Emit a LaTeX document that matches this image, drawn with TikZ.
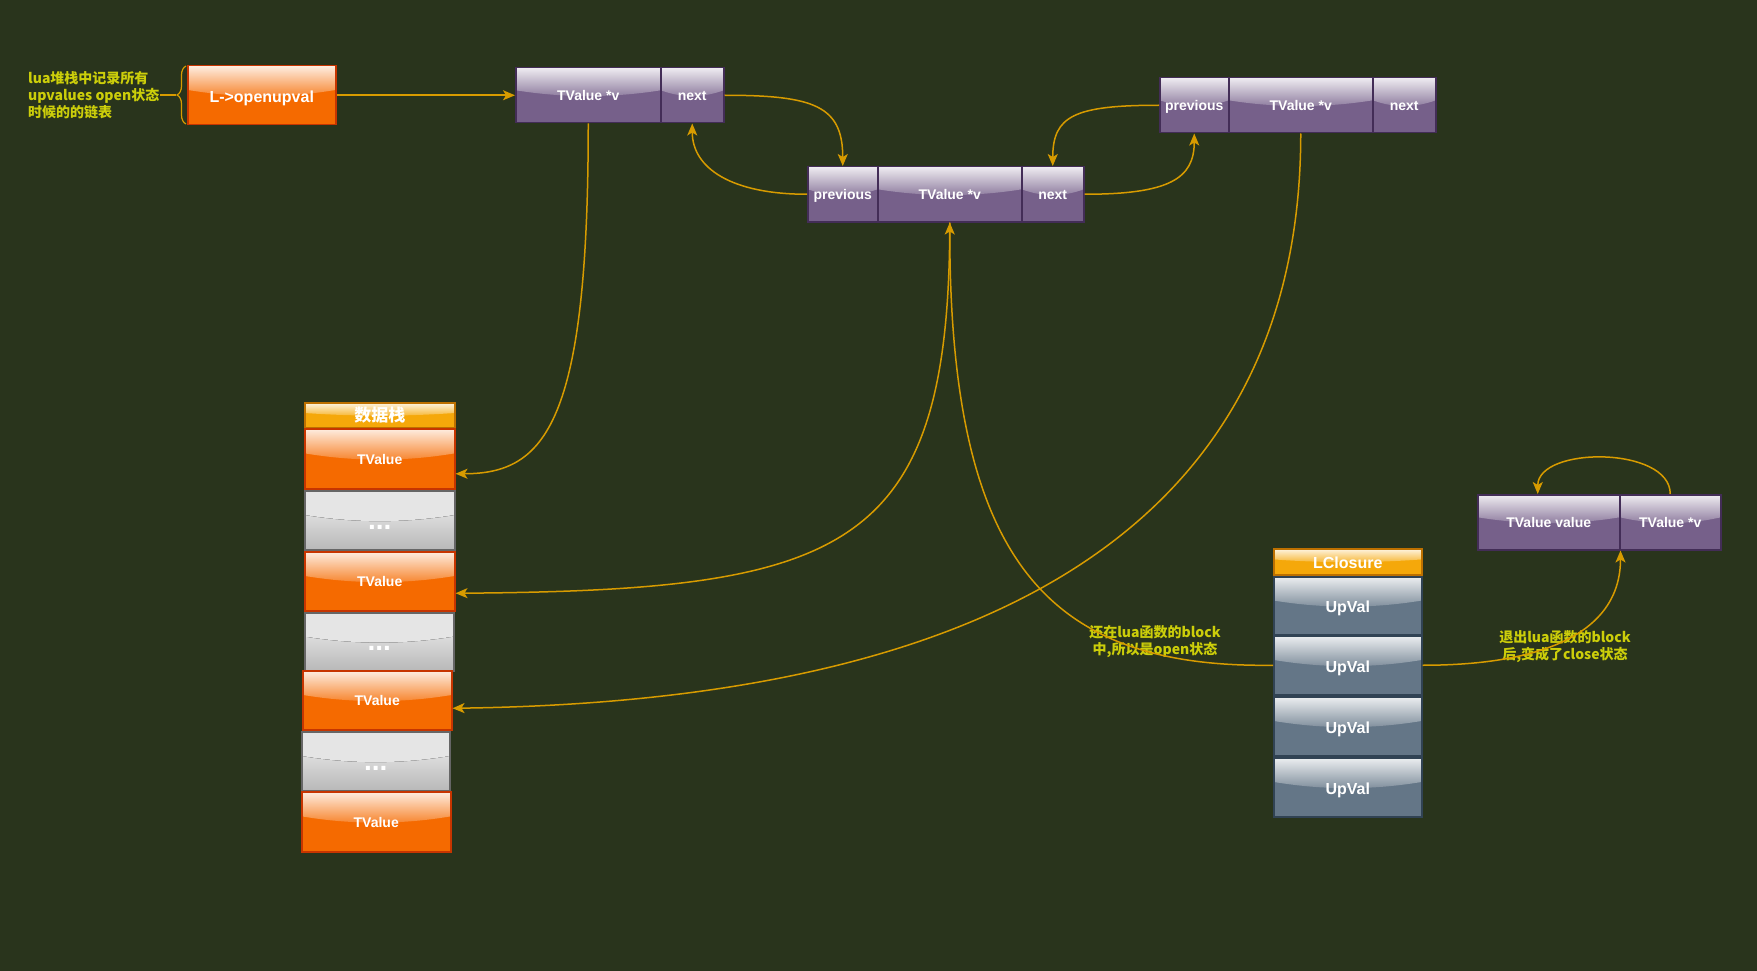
\documentclass[tikz,border=0pt]{standalone}
\usepackage{fontspec}
\setmainfont{Liberation Sans}
\newfontfamily\cjk{Noto Sans CJK SC}
\usetikzlibrary{calc,arrows.meta,decorations.pathreplacing}
\definecolor{cBg}{RGB}{41,52,28}
\definecolor{cOrange}{RGB}{245,106,0}
\definecolor{cOrangeD}{RGB}{199,53,0}
\definecolor{cPurple}{RGB}{118,96,138}
\definecolor{cPurpleD}{RGB}{67,45,87}
\definecolor{cSlate}{RGB}{100,118,135}
\definecolor{cSlateD}{RGB}{49,67,84}
\definecolor{cAmber}{RGB}{245,168,10}
\definecolor{cAmberD}{RGB}{189,112,0}
\definecolor{cGrayT}{RGB}{245,245,245}
\definecolor{cGrayB}{RGB}{184,184,184}
\definecolor{cGrayD}{RGB}{102,102,102}
\definecolor{cArrow}{RGB}{215,155,0}
\definecolor{cNote}{RGB}{204,206,10}
\tikzset{
  glass/.style={path picture={
    \path (path picture bounding box.north west) coordinate (gnw)
          (path picture bounding box.south east) coordinate (gse);
    \fill[top color=white!88!#1, bottom color=white!14!#1]
      let \p1=(gnw), \p2=(gse) in
      (\x1,\y1) -- (\x1,{\y1+0.41*(\y2-\y1)})
      .. controls ({\x1+(\x2-\x1)/3},{\y1+0.55*(\y2-\y1)}) and ({\x2-(\x2-\x1)/3},{\y1+0.55*(\y2-\y1)})
      .. (\x2,{\y1+0.41*(\y2-\y1)}) -- (\x2,\y1) -- cycle;
  }},
  box/.style={draw, line width=1.5pt, inner sep=0pt, anchor=north west, text=white,
    font=\bfseries\fontsize{14}{16}\selectfont, text height=11pt, text depth=0pt},
  big/.style={font=\bfseries\fontsize{16}{18}\selectfont, text height=14pt, text depth=0pt},
  orangebox/.style={box, fill=cOrange, draw=cOrangeD, glass=cOrange},
  purplebox/.style={box, fill=cPurple, draw=cPurpleD, glass=cPurple},
  slatebox/.style={box, big, fill=cSlate, draw=cSlateD, glass=cSlate},
  amberbox/.style={box, big, fill=cAmber, draw=cAmberD, glass=cAmber},
  dotsbox/.style={box, top color=cGrayT, bottom color=cGrayB, draw=cGrayD, glass=white!90!black,
    font=\bfseries\fontsize{28}{30}\selectfont, text height=18pt, text depth=0pt},
  note/.style={text=cNote, inner sep=1pt, font=\cjk\bfseries\fontsize{14}{17}\selectfont},
  conn/.style={draw=cArrow, line width=1.5pt, -{Stealth[length=12pt,width=10pt,inset=3pt]}},
}
\begin{document}
\begin{tikzpicture}[x=1pt,y=-1pt]
\fill[cBg] (0,0) rectangle (1757,971);
\useasboundingbox (0,0) rectangle (1757,971);

% L->openupval
\node[orangebox, big, minimum width=148pt, minimum height=59pt] (open) at (187,65) {L->openupval};
\node[note, anchor=west, align=left] (note1) at (27,95) {lua堆栈中记录所有\\upvalues open状态\\时候的的链表};
\draw[cArrow, line width=1.2pt, decorate, decoration={brace, amplitude=9pt}] (186,124) -- (186,66);
\coordinate (btip) at (176,95);
\draw[cArrow, line width=1.2pt] (btip) -- (note1.east);

% first list node
\node[purplebox, minimum width=145pt, minimum height=55pt] (b1v) at (515,67) {TValue *v};
\node[purplebox, minimum width=63pt, minimum height=55pt] (b1n) at (660,67) {next};

% middle list node
\node[purplebox, minimum width=70pt, minimum height=55pt] (mp) at (807,166) {previous};
\node[purplebox, minimum width=144pt, minimum height=55pt] (mv) at (877,166) {TValue *v};
\node[purplebox, minimum width=62pt, minimum height=55pt] (mn) at (1021,166) {next};

% right list node
\node[purplebox, minimum width=69pt, minimum height=55pt] (rp) at (1159,77) {previous};
\node[purplebox, minimum width=144pt, minimum height=55pt] (rv) at (1228,77) {TValue *v};
\node[purplebox, minimum width=63pt, minimum height=55pt] (rn) at (1372,77) {next};

% data stack
\node[amberbox, minimum width=150pt, minimum height=25pt, font=\cjk\bfseries\fontsize{17}{18}\selectfont, text height=13pt, text depth=1pt] (hdr) at (304,402) {数据栈};
\node[orangebox, minimum width=150pt, minimum height=60pt] (s1) at (304,428) {TValue};
\node[dotsbox, minimum width=150pt, minimum height=59pt] (d1) at (304,490) {...};
\node[orangebox, minimum width=150pt, minimum height=59pt] (s2) at (304,551) {TValue};
\node[dotsbox, minimum width=149pt, minimum height=58pt] (d2) at (304,612) {...};
\node[orangebox, minimum width=149pt, minimum height=59pt] (s3) at (302,670) {TValue};
\node[dotsbox, minimum width=148pt, minimum height=59pt] (d3) at (301,731) {...};
\node[orangebox, minimum width=149pt, minimum height=60pt] (s4) at (301,791) {TValue};

% LClosure
\node[amberbox, minimum width=148pt, minimum height=26pt, text height=13pt] (lc) at (1273,548) {LClosure};
\node[slatebox, minimum width=148pt, minimum height=58pt] (u1) at (1273,576) {UpVal};
\node[slatebox, minimum width=148pt, minimum height=59pt] (u2) at (1273,635) {UpVal};
\node[slatebox, minimum width=148pt, minimum height=59pt] (u3) at (1273,696) {UpVal};
\node[slatebox, minimum width=148pt, minimum height=59pt] (u4) at (1273,757) {UpVal};

% closed upvalue
\node[purplebox, minimum width=142pt, minimum height=55pt] (tv) at (1477,494) {TValue value};
\node[purplebox, minimum width=101pt, minimum height=55pt] (tp) at (1619,494) {TValue *v};

% notes
\node[note, align=center] (note2) at (1155,642) {还在lua函数的block\\中,所以是open状态};
\node[note, align=center] (note3) at (1565,647) {退出lua函数的block\\后,变成了close状态};

% connectors
\draw[conn] (open.east) -- (b1v.west);
\draw[conn] (b1n.east) .. controls +(90,0) and +(0,-60) .. (mp.north);
\draw[conn] (mp.west) .. controls +(-75,0) and +(0,45) .. (b1n.south);
\draw[conn] (mn.east) .. controls +(85,0) and +(0,45) .. (rp.south);
\draw[conn] (rp.west) .. controls +(-85,0) and +(0,-50) .. (mn.north);
\draw[conn] (b1v.south) .. controls +(0,300) and +(90,0) .. ([yshift=-15pt]s1.east);
\draw[conn] (mv.south) .. controls +(0,330) and +(390,-3) .. ([yshift=-12pt]s2.east);
\draw[conn] (u2.west) .. controls +(-225,3) and +(0,340) .. (mv.south);
\draw[conn] (rv.south) .. controls +(0,350) and +(600,-8) .. ([yshift=-8pt]s3.east);
\coordinate (tvb) at (tv.south east);
\draw[conn] (u2.east) .. controls +(125,0) and +(0,80) .. (tvb);
\coordinate (tvt) at ([xshift=-11pt]tv.north);
\draw[conn] (tp.north) .. controls +(0,-48) and +(0,-48) .. (tvt);
\end{tikzpicture}
\end{document}
